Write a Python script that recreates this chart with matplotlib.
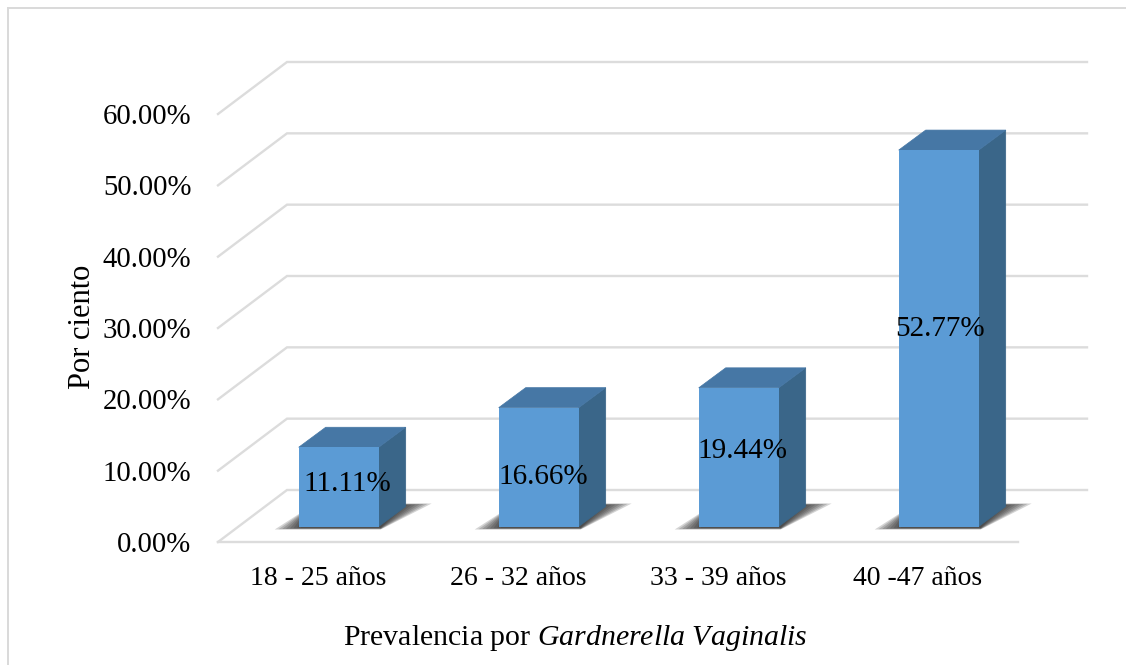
import matplotlib
matplotlib.use("Agg")
import matplotlib.pyplot as plt
from matplotlib.patches import Polygon
from matplotlib.transforms import IdentityTransform

categorias = ["18 - 25 años", "26 - 32 años", "33 - 39 años", "40 -47 años"]
valores = [11.11, 16.66, 19.44, 52.77]
etiquetas = ["11.11%", "16.66%", "19.44%", "52.77%"]
ticks_y = [0, 10, 20, 30, 40, 50, 60]
ticks_y_txt = ["0.00%", "10.00%", "20.00%", "30.00%", "40.00%", "50.00%", "60.00%"]

# ajuste a ojo de las etiquetas respecto al centro de la barra (px)
ajuste_x = [9, 5, 4, 1]
ajuste_y = [3, -10, 6, 9]

plt.rcParams["font.family"] = ["Liberation Serif", "DejaVu Sans"]
plt.rcParams["mathtext.fontset"] = "custom"
plt.rcParams["mathtext.it"] = "Liberation Serif:italic"
plt.rcParams["mathtext.rm"] = "Liberation Serif"

W, H = 1134, 665
fig = plt.figure(figsize=(W / 100, H / 100), dpi=100)
ax = fig.add_axes([218 / W, 1 - 542 / H, 800 / W, 428 / H])
ax.set_xlim(-0.5, 3.5)
ax.set_ylim(0, 60)
for s in ax.spines.values():
    s.set_visible(False)
ax.patch.set_visible(False)

# marco exterior
gris_marco = "#d9d9d9"
fig.add_artist(plt.Line2D([8 / W, 8 / W], [0, 1 - 8 / H], color=gris_marco, lw=1.4))
fig.add_artist(plt.Line2D([8 / W, 1125 / W], [1 - 8 / H, 1 - 8 / H], color=gris_marco, lw=1.4))

# profundidad en px
FONDO_X, FONDO_Y = 69, 52
BARRA_X0, BARRA_Y0 = 20.7, 15.5
BARRA_PX, BARRA_PY = 27, 20
ANCHO = 0.4


def px(x, y, dx=0, dy=0):
    p = ax.transData.transform((x, y))
    return (p[0] + dx, p[1] + dy)


def poli(puntos, **kw):
    ax.add_patch(Polygon(puntos, closed=True, transform=IdentityTransform(), clip_on=False, **kw))


gris = "#dcdcdc"
# rejilla de las paredes
for t in ticks_y:
    a = px(-0.5, t)
    b = px(-0.5, t, FONDO_X, FONDO_Y)
    c = px(3.5, t, FONDO_X, FONDO_Y)
    ax.plot([a[0], b[0], c[0]], [a[1], b[1], c[1]], color=gris, lw=1.7,
            transform=IdentityTransform(), clip_on=False, zorder=1, solid_joinstyle="miter")
a = px(-0.5, 0)
b = px(3.5, 0)
ax.plot([a[0], b[0]], [a[1], b[1]], color=gris, lw=1.7, transform=IdentityTransform(),
        clip_on=False, zorder=1)

# barras
for i, v in enumerate(valores):
    x0 = i - ANCHO / 2
    x1 = i + ANCHO / 2
    # sombra en el suelo, varias capas para difuminar
    bx0, by0 = px(x0, 0, BARRA_X0, BARRA_Y0)
    bx1, by1 = px(x1, 0, BARRA_X0, BARRA_Y0)
    for k in range(8):
        e = k * 2.5
        poli([(bx0 - 24 + e * 1.5, by0 - 3 + e * 0.1),
              (bx1 + 2, by1 - 3 + e * 0.1),
              (bx1 + BARRA_PX + 26 - e * 1.6, by1 + BARRA_PY + 3 - e * 0.1),
              (bx1 + BARRA_PX - 10, by1 + BARRA_PY + 3 - e * 0.1),
              (bx0 + 4, by0 + 15 - e * 0.3)],
             facecolor="#2b2b2b", edgecolor="none", alpha=0.2, zorder=2)

barras = ax.bar(range(4), valores, width=ANCHO, color="#5b9bd5", zorder=5, clip_on=False)
for i, (r, v) in enumerate(zip(barras, valores)):
    x0 = i - ANCHO / 2
    x1 = i + ANCHO / 2
    r.set_transform(ax.transData + matplotlib.transforms.Affine2D().translate(BARRA_X0, BARRA_Y0))
    d = (BARRA_X0, BARRA_Y0)
    d2 = (BARRA_X0 + BARRA_PX, BARRA_Y0 + BARRA_PY)
    # cara lateral
    poli([px(x1, 0, *d), px(x1, v, *d), px(x1, v, *d2), px(x1, 0, *d2)],
         facecolor="#3a6689", edgecolor="#3a6689", lw=0.5, zorder=4)
    # cara superior
    poli([px(x0, v, *d), px(x1, v, *d), px(x1, v, *d2), px(x0, v, *d2)],
         facecolor="#4677a5", edgecolor="#4677a5", lw=0.5, zorder=4)
    # etiqueta
    ax.annotate(etiquetas[i], xy=(i, v / 2), xycoords="data",
                xytext=(BARRA_X0 + ajuste_x[i], BARRA_Y0 + ajuste_y[i]),
                textcoords="offset pixels", ha="center", va="center",
                fontsize=21, color="black", zorder=6)

ax.set_xticks(range(4))
ax.set_xticklabels(categorias, fontsize=20)
ax.set_yticks(ticks_y)
ax.set_yticklabels(ticks_y_txt, fontsize=20.7)
ax.tick_params(axis="both", length=0)
ax.tick_params(axis="x", pad=17)
ax.tick_params(axis="y", pad=19)

fig.text(82 / W, 1 - 327 / H, "Por ciento", rotation=90, ha="center", va="center", fontsize=22)
fig.text(575 / W, 1 - 638 / H, r"Prevalencia por $\mathit{Gardnerella\ Vaginalis}$",
         ha="center", va="center", fontsize=21.5)

fig.savefig("out.png", dpi=100)
